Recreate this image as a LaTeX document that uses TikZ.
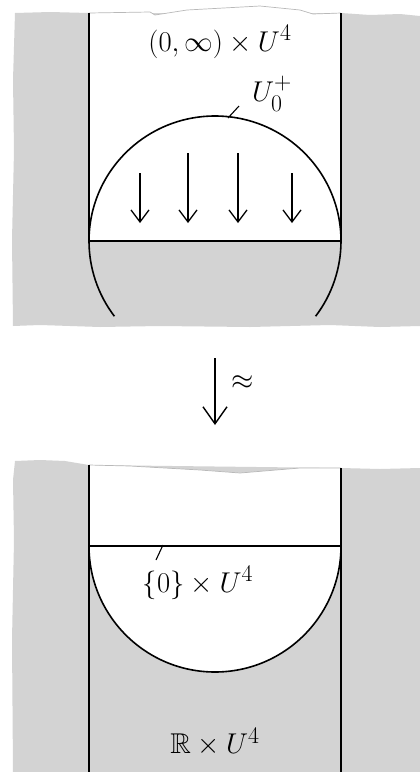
\documentclass[tikz,border=0pt]{standalone}
\usepackage{amssymb}
\usepackage{amsmath}
\usepackage{xcolor}
\usepackage{tikz}
\usetikzlibrary{arrows.meta}
\definecolor{paper}{RGB}{211,211,211}
\definecolor{tear}{RGB}{185,185,185}

\begin{document}
\begin{tikzpicture}[x=1pt,y=-1pt,
  every node/.style={font=\Huge, inner sep=1pt, scale=1.15, transform shape},
  pen/.style={line width=1.6pt},
  wall/.style={line width=1.1pt},
  cut/.style={line width=2pt},
  flow/.style={line width=1.3pt, -{Straight Barb[length=12pt,width=18pt]}},
  sheet/.style={fill=paper},
  edge/.style={draw=tear, line width=0.7pt}
]
  \useasboundingbox (0,0) rectangle (420,772);

  % upper sheet
  \path[sheet] (15,13) -- (50,12) -- (89,13) -- (341,13) -- (370,15) -- (400,14)
    -- (420,16) -- (420,326) -- (380,327) -- (330,325) -- (250,327) -- (160,326)
    -- (100,327) -- (40,325) -- (13,326) -- (12,240) -- (14,150) -- (13,80) -- cycle;
  \fill[white] (89,13) -- (150,12) -- (155,15) -- (187,10) -- (260,6) -- (300,10)
    -- (313,14) -- (341,13) -- (341,241) -- (89,241) -- cycle;
  \draw[edge] (89,13) -- (150,12) -- (155,15) -- (187,10) -- (260,6) -- (300,10)
    -- (313,14) -- (341,13);

  \draw[wall] (89,13) -- (89,241);
  \draw[wall] (341,13) -- (341,241);
  \draw[pen] (89,241) arc[start angle=180, end angle=360, x radius=126, y radius=125];
  \draw[pen] (89,241) arc[start angle=180, end angle=143, x radius=126, y radius=125];
  \draw[pen] (341,241) arc[start angle=0, end angle=37, x radius=126, y radius=125];
  \draw[cut] (89,241) -- (341,241);

  \draw[flow] (140,173) -- (140,223);
  \draw[flow] (188,153) -- (188,223);
  \draw[flow] (238,153) -- (238,223);
  \draw[flow] (292,173) -- (292,223);

  \node (halfspace) at (220,42) {$(0,\infty)\times U^4$};
  \node (uplus) at (272,94) {$U_0^+$};
  \coordinate (domept) at (228,118);
  \coordinate (uptip) at (239,106);
  \draw[line width=1.1pt] (domept) -- (uptip);

  % the map
  \coordinate (mapS) at (215,358);
  \coordinate (mapE) at (215,425);
  \draw[line width=1.4pt, -{Straight Barb[length=17pt,width=24pt]}] (mapS) -- (mapE);
  \node (approx) at (243,383) {$\approx$};

  % lower sheet
  \path[sheet] (15,461) -- (40,460) -- (65,461) -- (89,465) -- (341,468) -- (380,469)
    -- (420,468) -- (420,772) -- (13,772) -- (12,640) -- (14,540) -- (13,480) -- cycle;
  \fill[white] (89,465) -- (130,466) -- (200,470) -- (240,473) -- (300,468) -- (341,468)
    -- (341,546) -- (89,546) -- cycle;
  \draw[edge] (89,465) -- (130,466) -- (200,470) -- (240,473) -- (300,468) -- (341,468);
  \fill[white] (89,546) arc[start angle=180, end angle=0, x radius=126, y radius=126] -- cycle;

  \draw[wall] (89,465) -- (89,772);
  \draw[wall] (341,468) -- (341,772);
  \draw[pen] (89,546) arc[start angle=180, end angle=0, x radius=126, y radius=126];
  \draw[cut] (89,546) -- (341,546);

  \node (slice) at (198,583) {$\{0\}\times U^4$};
  \coordinate (slicept) at (163,545);
  \coordinate (slicetip) at (156,560);
  \draw[line width=1.1pt] (slicept) -- (slicetip);
  \node (fullspace) at (215,742) {$\mathbb{R}\times U^4$};
\end{tikzpicture}
\end{document}
